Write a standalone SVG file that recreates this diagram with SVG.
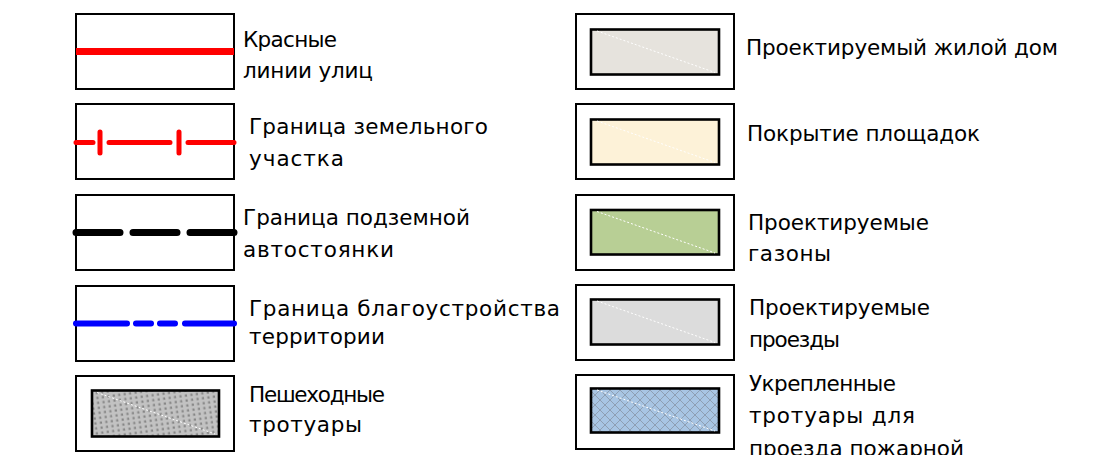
<svg xmlns="http://www.w3.org/2000/svg" width="1120" height="455" viewBox="0 0 1120 455">
<style>
.frame{fill:#fff;stroke:#000;stroke-width:2}
.inner{stroke:#000;stroke-width:2.6}
.diag{stroke:#fff;stroke-width:1;stroke-dasharray:2 2;fill:none}
.t{font-family:"DejaVu Sans","Liberation Sans",sans-serif;font-size:21.5px;fill:#000}
.lnr{stroke:#f00;stroke-linecap:round;fill:none}
</style>
<defs>
<pattern id="dots" width="5.5" height="5" patternUnits="userSpaceOnUse" patternTransform="rotate(-8)">
<rect width="5.5" height="5" fill="#c2c2c2"/>
<rect x="1.5" y="1.5" width="2.2" height="2.2" fill="#858585"/>
</pattern>
<pattern id="cross" width="10" height="10" patternUnits="userSpaceOnUse">
<rect width="10" height="10" fill="#a8c5e3"/>
<path d="M0 0L10 10M10 0L0 10" stroke="#8e9fb3" stroke-width="1"/>
</pattern>
</defs>
<rect width="1120" height="455" fill="#fff"/>

<g id="red-lines">
<rect class="frame" x="76" y="14" width="158" height="75"/>
<line x1="76" y1="51.5" x2="234" y2="51.5" stroke="#f00" stroke-width="7"/>
<text class="t" x="243" y="47" textLength="94" lengthAdjust="spacing">Красные</text>
<text class="t" x="243" y="78" textLength="130" lengthAdjust="spacing">линии улиц</text>
</g>

<g id="land-boundary">
<rect class="frame" x="76" y="104" width="158" height="75"/>
<path class="lnr" stroke-width="5" d="M76 142.5H93M109 142.5H170M188 142.5H234M100 132V153M179 132V153"/>
<text class="t" x="249" y="134" textLength="239" lengthAdjust="spacing">Граница земельного</text>
<text class="t" x="249" y="166" textLength="95" lengthAdjust="spacing">участка</text>
</g>

<g id="parking-boundary">
<rect class="frame" x="76" y="195" width="158" height="75"/>
<path d="M76 232.5H120M133 232.5H177M190 232.5H234" stroke="#000" stroke-width="7" stroke-linecap="round" fill="none"/>
<text class="t" x="243" y="225" textLength="227" lengthAdjust="spacing">Граница подземной</text>
<text class="t" x="243" y="257" textLength="151" lengthAdjust="spacing">автостоянки</text>
</g>

<g id="landscaping-boundary">
<rect class="frame" x="76" y="286" width="158" height="75"/>
<path d="M76 323.5H127M136 323.5H151M160 323.5H175M185 323.5H234" stroke="#00f" stroke-width="6" stroke-linecap="round" fill="none"/>
<text class="t" x="249" y="316" textLength="311" lengthAdjust="spacing">Граница благоустройства</text>
<text class="t" x="249" y="344" textLength="136" lengthAdjust="spacing">территории</text>
</g>

<g id="sidewalks">
<rect class="frame" x="76" y="376" width="158" height="75"/>
<rect class="inner" x="92" y="390.5" width="127" height="46" fill="url(#dots)"/>
<line class="diag" x1="97" y1="392.5" x2="215" y2="434"/>
<text class="t" x="249" y="402" textLength="136" lengthAdjust="spacing">Пешеходные</text>
<text class="t" x="249" y="432" textLength="113" lengthAdjust="spacing">тротуары</text>
</g>

<g id="residential">
<rect class="frame" x="576" y="14" width="158" height="75"/>
<rect class="inner" x="591" y="29.5" width="128" height="45" fill="#e6e3dd"/>
<line class="diag" x1="597" y1="31" x2="715" y2="72.5"/>
<text class="t" x="746" y="55" textLength="312" lengthAdjust="spacing">Проектируемый жилой дом</text>
</g>

<g id="playgrounds">
<rect class="frame" x="576" y="104" width="158" height="75"/>
<rect class="inner" x="591" y="119.5" width="128" height="45" fill="#fdf2d8"/>
<line class="diag" x1="597" y1="121" x2="715" y2="162.5"/>
<text class="t" x="747" y="141" textLength="233" lengthAdjust="spacing">Покрытие площадок</text>
</g>

<g id="lawns">
<rect class="frame" x="576" y="195" width="158" height="75"/>
<rect class="inner" x="591" y="210" width="128" height="44.5" fill="#b8cf95"/>
<line class="diag" x1="597" y1="211.5" x2="715" y2="253"/>
<text class="t" x="748" y="230" textLength="181" lengthAdjust="spacing">Проектируемые</text>
<text class="t" x="748" y="261" textLength="83" lengthAdjust="spacing">газоны</text>
</g>

<g id="driveways">
<rect class="frame" x="576" y="285" width="158" height="75"/>
<rect class="inner" x="591" y="299.5" width="128" height="45" fill="#dcdcdc"/>
<line class="diag" x1="597" y1="301" x2="715" y2="342.5"/>
<text class="t" x="749" y="315" textLength="181" lengthAdjust="spacing">Проектируемые</text>
<text class="t" x="749" y="347" textLength="91" lengthAdjust="spacing">проезды</text>
</g>

<g id="fire-driveways">
<rect class="frame" x="576" y="375" width="158" height="74"/>
<rect class="inner" x="591" y="388.5" width="128" height="44" fill="url(#cross)"/>
<line class="diag" x1="597" y1="390" x2="715" y2="431"/>
<text class="t" x="749" y="391" textLength="147" lengthAdjust="spacing">Укрепленные</text>
<text class="t" x="749" y="423" textLength="166" lengthAdjust="spacing">тротуары для</text>
<text class="t" x="749" y="456" textLength="215" lengthAdjust="spacing">проезда пожарной</text>
</g>
</svg>
